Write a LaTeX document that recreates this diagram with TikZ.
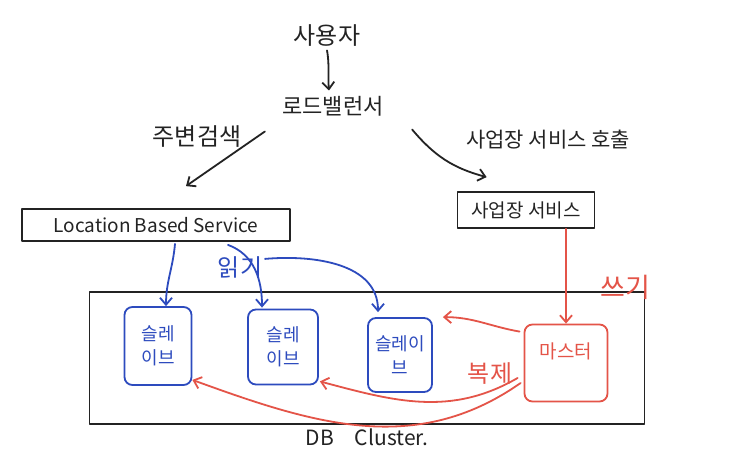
\documentclass[tikz,border=0pt]{standalone}
\usepackage{fontspec}
\setmainfont{Noto Sans CJK KR}
\usetikzlibrary{arrows.meta,calc}
\definecolor{inkblue}{RGB}{45,75,190}
\definecolor{inkred}{RGB}{228,84,72}
\definecolor{ink}{RGB}{35,35,35}
\tikzset{
  every node/.style={text=ink},
  pen/.style={draw=ink,line width=1.8pt,line cap=round,line join=round},
  tip/.style={-{Straight Barb[length=7pt,width=12pt]}},
  bigtext/.style={font=\fontsize{24}{26}\selectfont},
  lbtext/.style={font=\fontsize{22}{24}\selectfont},
  midtext/.style={font=\fontsize{21}{23}\selectfont},
  boxtext/.style={font=\fontsize{19}{21}\selectfont},
  slavebox/.style={draw=inkblue,line width=1.8pt,rounded corners=8pt,text=inkblue,
    font=\fontsize{18}{24}\selectfont,align=center,inner sep=0pt},
  masterbox/.style={draw=inkred,line width=1.8pt,rounded corners=8pt,text=inkred,
    font=\fontsize{19}{22}\selectfont,align=center,inner sep=0pt},
  blueline/.style={draw=inkblue,line width=1.8pt,line cap=round},
  redline/.style={draw=inkred,line width=1.8pt,line cap=round},
}
\begin{document}
\begin{tikzpicture}[x=1pt,y=-1pt]
\path[use as bounding box,fill=white] (0,0) rectangle (743,462);

% top nodes
\node[bigtext] (user) at (327,36) {사용자};
\node[lbtext] (lb) at (333,106) {로드밸런서};
\node[bigtext] (search) at (197,137) {주변검색};
\node[midtext] (call) at (548,140) {사업장 서비스 호출};

% service boxes
\node[pen,boxtext,minimum width=268pt,minimum height=32pt,inner sep=0pt] (lbs) at (156,225) {Location Based Service};
\node[pen,boxtext,minimum width=137pt,minimum height=36pt,inner sep=0pt] (biz) at (526,210) {사업장 서비스};

% DB cluster
\node[pen,minimum width=555pt,minimum height=132pt,inner sep=0pt] (cluster) at (367,358) {};
\node[midtext,below=0pt] (clabel) at (cluster.south) {DB\quad Cluster.};

% DB nodes
\node[slavebox,minimum width=67pt,minimum height=78pt] (s1) at (158,346) {슬레\\이브};
\node[slavebox,minimum width=70pt,minimum height=75pt] (s2) at (283,347) {슬레\\이브};
\node[slavebox,minimum width=64pt,minimum height=74pt] (s3) at (400,355) {슬레이\\브};
\node[masterbox,minimum width=83pt,minimum height=77pt,text depth=25pt] (m) at (566,363) {마스터};

% labels on connectors
\node[bigtext,text=inkblue] (read) at (240,268) {읽기};
\node[font=\fontsize{27}{29}\selectfont,text=inkred] (write) at (625,287) {쓰기};
\node[bigtext,text=inkred] (repl) at (490,374) {복제};

% black arrows
\draw[pen,tip] (user.south) to[out=-80,in=95] ($(lb.north)+(-4,-2)$);
\draw[pen,tip] ($(lb.south west)+(-14,12)$) -- ($(lbs.north)+(30,-22)$);
\draw[pen,tip] ($(lb.south east)+(25,10)$) to[out=-50,in=165] ($(biz.north west)+(30,-14)$);

% read arrows (blue)
\draw[blueline,tip] ($(lbs.south)+(19,2)$) to[out=-95,in=90] ($(s1.north)+(8,0)$);
\draw[blueline,tip] ($(lbs.south)+(72,3)$) to[out=-20,in=90] ($(s2.north)+(-21,-1)$);
\draw[blueline,tip] ($(lbs.south)+(109,17)$) to[out=5,in=90] ($(s3.north)+(-22,-5)$);

% write arrow (red)
\draw[redline,tip] (biz.south -| m.north) -- (m.north);

% replication arrows (red)
\draw[redline,tip] ($(m.north west)+(-4,8)$) to[out=170,in=0] ($(s3.north east)+(10,0)$);
\draw[redline,tip] ($(m.west)+(-6,15)$) to[out=-150,in=-15] ($(s2.south east)+(1,-4)$);
\draw[redline,tip] ($(m.west)+(-3,20)$) to[out=-145,in=-20] ($(s1.south east)+(0,-6)$);
\end{tikzpicture}
\end{document}
